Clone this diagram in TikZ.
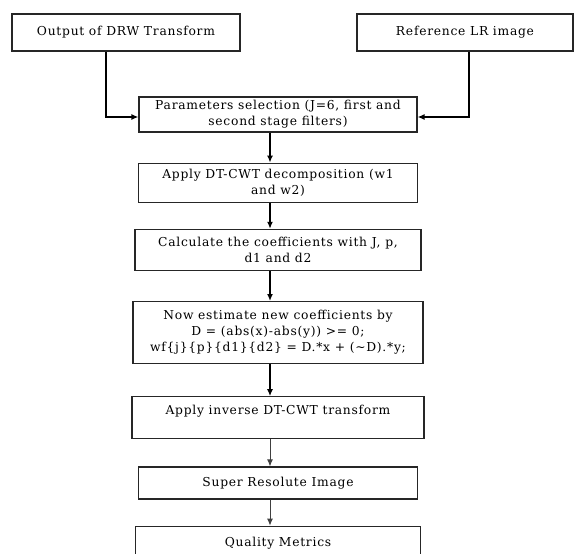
\documentclass[tikz,border=0pt]{standalone}
\usepackage{fontspec}
\setmainfont[LetterSpace=6]{DejaVu Serif}
\usetikzlibrary{arrows.meta, positioning}

\begin{document}
\begin{tikzpicture}[
    x=1pt, y=-1pt,
    node distance=30pt,
    font=\fontsize{12.3}{16}\selectfont,
    box/.style={rectangle, draw=black!85, line width=1.2pt, fill=white, minimum height=35pt, align=center, inner sep=2pt},
    arrow/.style={-{Latex[length=7pt, width=6pt]}, line width=1.4pt},
    thinarrow/.style={-{Latex[length=7pt, width=6pt]}, line width=0.9pt, draw=black!75, fill=black!75}
]
\useasboundingbox (0,0) rectangle (576,554);
\coordinate (spine) at (270,0);

\node[box, minimum width=228pt, minimum height=37pt] (dwr) at (126,32.5) {Output of DRW Transform};
\node[box, minimum width=216pt, minimum height=37pt] (ref) at (465,32.5) {Reference LR image};
\node[box, minimum width=278pt, minimum height=35pt] (param) at (278,114.5) {Parameters selection (J=6, first and\\ second stage filters)};
\node[box, minimum width=279pt, minimum height=39pt, below=30pt of param] (dtcwt) {Apply DT-CWT decomposition (w1\\ and w2)};
\node[box, minimum width=286pt, minimum height=41pt, below=26pt of dtcwt] (coef) {Calculate the coefficients with J, p,\\ d1 and d2};
\node[box, minimum width=290pt, minimum height=62pt, below=30pt of coef] (estim) {Now estimate new coefficients by\\ D = (abs(x)-abs(y)) >= 0;\\ wf\{j\}\{p\}\{d1\}\{d2\} = D.*x + (\textasciitilde D).*y;};
\node[box, minimum width=292pt, minimum height=42pt, below=32pt of estim] (inv) {Apply inverse DT-CWT transform\\ \mbox{}};
\node[box, minimum width=279pt, minimum height=32pt, below=27pt of inv] (sr) {Super Resolute Image};
\node[box, minimum width=285pt, minimum height=34pt, below=26pt of sr] (qm) {Quality Metrics};

\draw[arrow] ([xshift=-20pt]dwr.south) |- ([yshift=-2.5pt]param.west);
\draw[arrow] ([xshift=4pt]ref.south) |- ([yshift=-2.5pt]param.east);
\draw[arrow] (param.south -| spine) -- (dtcwt.north -| spine);
\draw[arrow] (dtcwt.south -| spine) -- (coef.north -| spine);
\draw[arrow] (coef.south -| spine) -- (estim.north -| spine);
\draw[arrow] (estim.south -| spine) -- (inv.north -| spine);
\draw[thinarrow] (inv.south -| spine) -- (sr.north -| spine);
\draw[thinarrow] (sr.south -| spine) -- (qm.north -| spine);
\end{tikzpicture}
\end{document}
